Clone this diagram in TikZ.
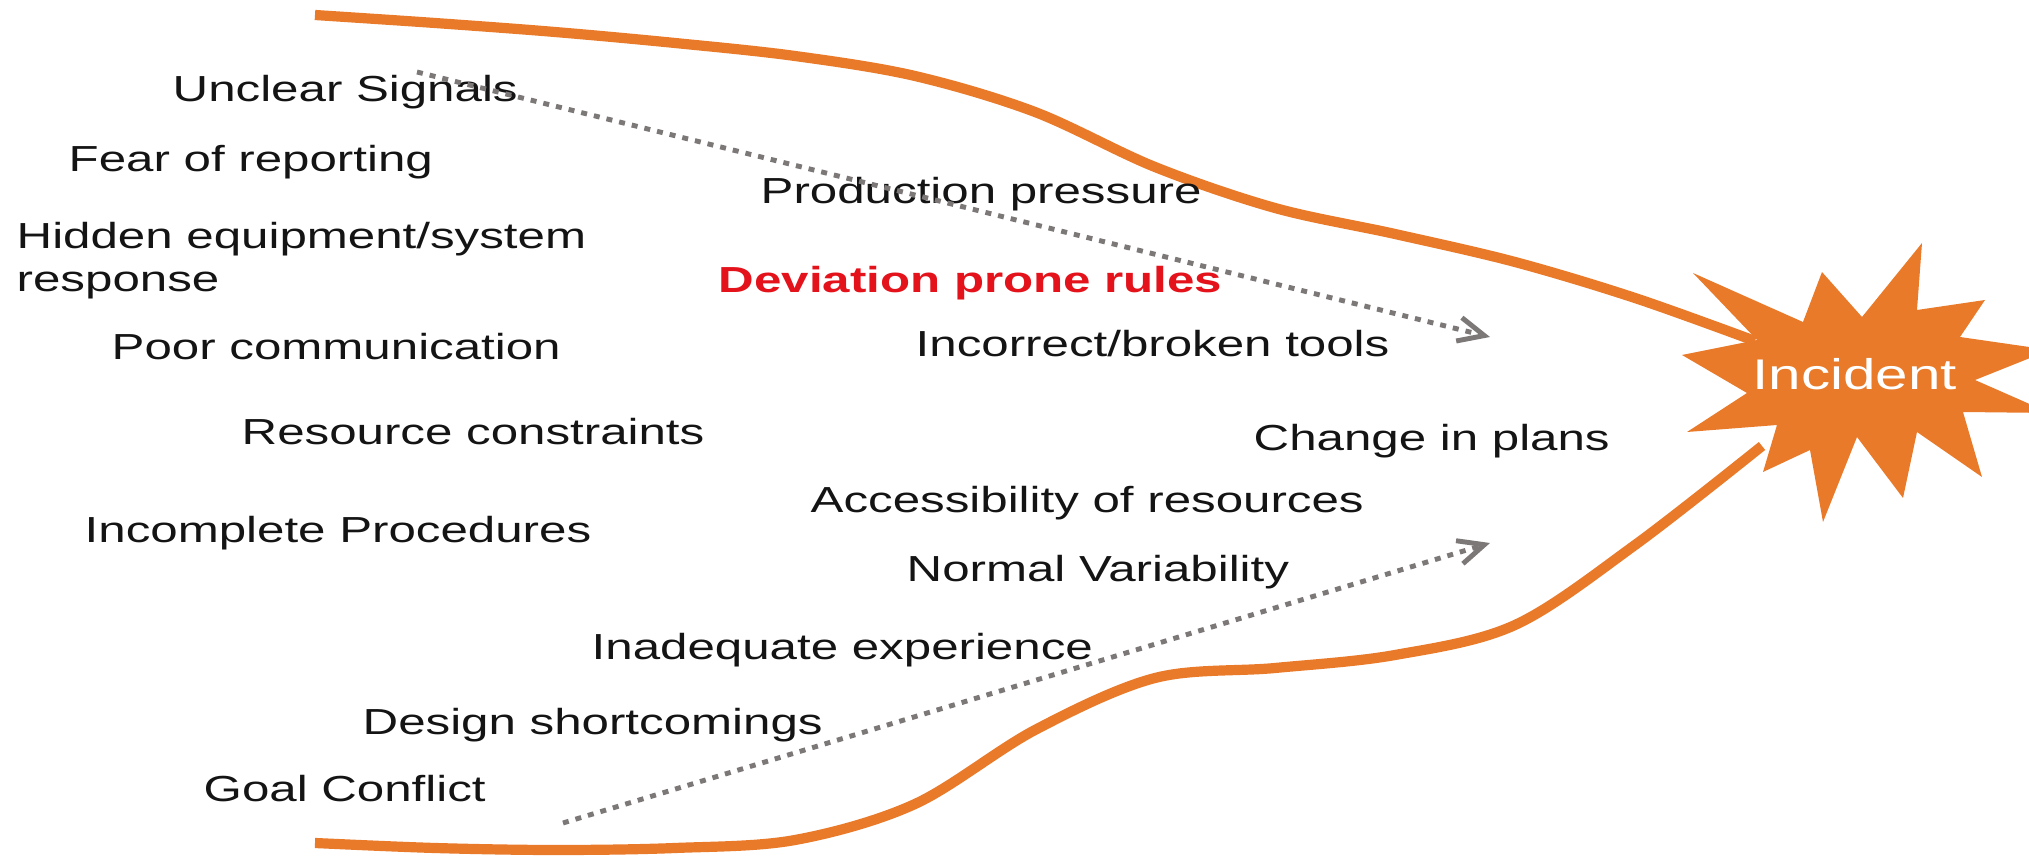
\documentclass[tikz,border=0pt]{standalone}
\usepackage{fontspec}
\setmainfont{Liberation Sans}[FakeStretch=1.36]
\usetikzlibrary{arrows.meta}

\definecolor{flameorange}{RGB}{233,122,41}
\definecolor{rulered}{RGB}{227,18,27}
\definecolor{driftgray}{RGB}{125,120,120}

\newcommand\causefont{\fontsize{10.3}{12.5}\selectfont}

\tikzset{
  cause/.style={anchor=base west, inner sep=0pt, font=\causefont, text=black!92},
  boundary/.style={draw=flameorange, line width=2.9pt},
  drift/.style={draw=driftgray, line width=1.4pt, dash pattern=on 1.7pt off 2pt,
    -{Straight Barb[length=2.6mm,width=2.4mm]}}
}

\begin{document}
\begin{tikzpicture}[x=0.01cm, y=-0.01cm]
      \useasboundingbox (0,0) rectangle (2029,861);
      %incident
      \fill[flameorange] (1682,355) -- (1757,340) -- (1693,273) -- (1803,322) -- (1822,272)
        -- (1862,317) -- (1922,243) -- (1917,310) -- (1985,300) -- (1960,337) -- (2050,350)
        -- (1975,380) -- (2050,413) -- (1963,412) -- (1982,477) -- (1917,432) -- (1903,498)
        -- (1857,437) -- (1823,522) -- (1810,450) -- (1763,472) -- (1777,425) -- (1687,432)
        -- (1747,393) -- cycle;
      \node[anchor=base west, inner sep=0pt, text=white, font=\fontsize{12.2}{14}\selectfont] (incident) at (1752,390) {Incident};
      \coordinate (topjoin) at (1755,341);
      \coordinate (bottomjoin) at (1762,446);
      %funnel
      \draw[boundary] plot[smooth, tension=0.55] coordinates {(315,15) (435,23) (555,32) (675,43)
        (795,56) (915,76) (1035,112) (1155,167) (1275,208) (1395,234) (1515,262) (1635,298) (topjoin)};
      \draw[boundary] plot[smooth, tension=0.55] coordinates {(315,843) (435,848) (555,850) (675,848)
        (795,840) (915,804) (1035,730) (1155,678) (1275,668) (1395,655) (1515,625) (1635,545) (bottomjoin)};
      %causes
      \node[cause] (signals) at (172,102) {Unclear Signals};
      \node[cause] (fear) at (68,172) {Fear of reporting};
      \node[cause, align=left] (hidden) at (16,292) {Hidden equipment/system\\response};
      \node[cause] (comms) at (111,360) {Poor communication};
      \node[cause] (resources) at (241,445) {Resource constraints};
      \node[cause] (procedures) at (84,543) {Incomplete Procedures};
      \node[cause] (pressure) at (760,204) {Production pressure};
      \node[cause, text=rulered, font=\causefont\bfseries] (rules) at (718,293) {Deviation prone rules};
      \node[cause] (tools) at (915,357) {Incorrect/broken tools};
      \node[cause] (plans) at (1253,451) {Change in plans};
      \node[cause] (access) at (810,513) {Accessibility of resources};
      \node[cause] (variability) at (906,582) {Normal Variability};
      \node[cause] (experience) at (591,660) {Inadequate experience};
      \node[cause] (design) at (362,735) {Design shortcomings};
      \node[cause] (goals) at (203,802) {Goal Conflict};
      %drift arrows
      \coordinate (upperfrom) at (417,72); \coordinate (upperto) at (1490,337);
      \coordinate (lowerfrom) at (563,823); \coordinate (lowerto) at (1490,543);
      \draw[drift] (upperfrom) -- (upperto);
      \draw[drift] (lowerfrom) -- (lowerto);
\end{tikzpicture}
\end{document}
